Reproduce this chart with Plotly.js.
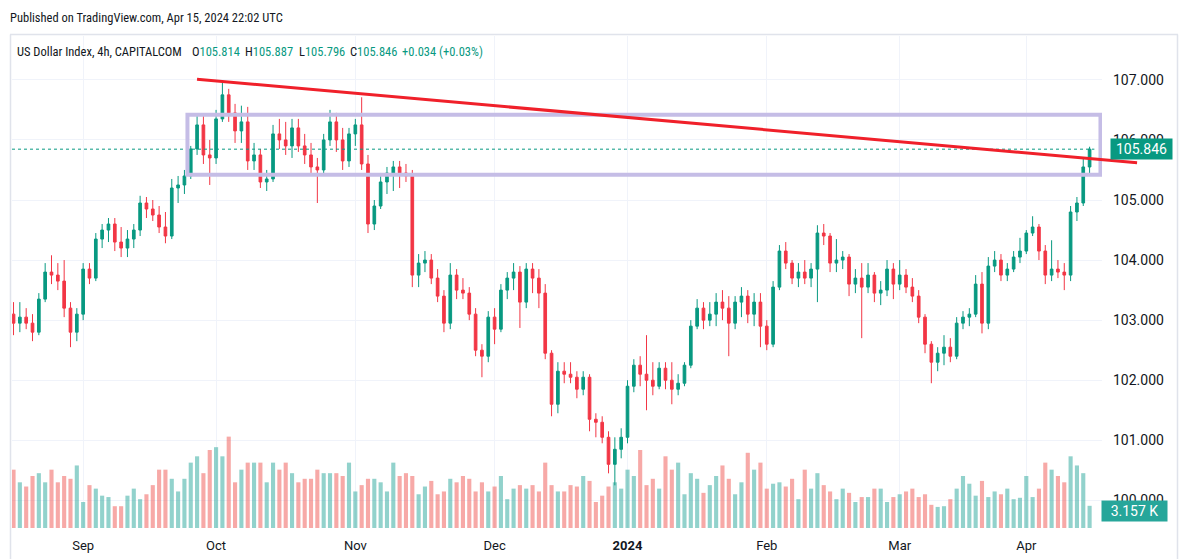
<!DOCTYPE html>
<html>
<head>
<meta charset="utf-8">
<script src="https://cdn.plot.ly/plotly-3.0.1.min.js"></script>
<style>
html,body{margin:0;padding:0;background:#fff;}
#chart{width:1185px;height:559px;}
</style>
</head>
<body>
<div id="chart"></div>
<script>
// ---- categories (trading days) ----
const dates = [
'2023-08-17','2023-08-18','2023-08-21','2023-08-22','2023-08-23','2023-08-24','2023-08-25','2023-08-28','2023-08-29','2023-08-30','2023-08-31',
'2023-09-01','2023-09-04','2023-09-05','2023-09-06','2023-09-07','2023-09-08','2023-09-11','2023-09-12','2023-09-13','2023-09-14','2023-09-15','2023-09-18','2023-09-19','2023-09-20','2023-09-21','2023-09-22','2023-09-25','2023-09-26','2023-09-27','2023-09-28','2023-09-29',
'2023-10-02','2023-10-03','2023-10-04','2023-10-05','2023-10-06','2023-10-09','2023-10-10','2023-10-11','2023-10-12','2023-10-13','2023-10-16','2023-10-17','2023-10-18','2023-10-19','2023-10-20','2023-10-23','2023-10-24','2023-10-25','2023-10-26','2023-10-27','2023-10-30','2023-10-31',
'2023-11-01','2023-11-02','2023-11-03','2023-11-06','2023-11-07','2023-11-08','2023-11-09','2023-11-10','2023-11-13','2023-11-14','2023-11-15','2023-11-16','2023-11-17','2023-11-20','2023-11-21','2023-11-22','2023-11-23','2023-11-24','2023-11-27','2023-11-28','2023-11-29','2023-11-30',
'2023-12-01','2023-12-04','2023-12-05','2023-12-06','2023-12-07','2023-12-08','2023-12-11','2023-12-12','2023-12-13','2023-12-14','2023-12-15','2023-12-18','2023-12-19','2023-12-20','2023-12-21','2023-12-22','2023-12-25','2023-12-26','2023-12-27','2023-12-28','2023-12-29',
'2024-01-02','2024-01-03','2024-01-04','2024-01-05','2024-01-08','2024-01-09','2024-01-10','2024-01-11','2024-01-12','2024-01-15','2024-01-16','2024-01-17','2024-01-18','2024-01-19','2024-01-22','2024-01-23','2024-01-24','2024-01-25','2024-01-26','2024-01-29','2024-01-30','2024-01-31',
'2024-02-01','2024-02-02','2024-02-05','2024-02-06','2024-02-07','2024-02-08','2024-02-09','2024-02-12','2024-02-13','2024-02-14','2024-02-15','2024-02-16','2024-02-19','2024-02-20','2024-02-21','2024-02-22','2024-02-23','2024-02-26','2024-02-27','2024-02-28','2024-02-29',
'2024-03-01','2024-03-04','2024-03-05','2024-03-06','2024-03-07','2024-03-08','2024-03-11','2024-03-12','2024-03-13','2024-03-14','2024-03-15','2024-03-18','2024-03-19','2024-03-20','2024-03-21','2024-03-22','2024-03-25','2024-03-26','2024-03-27','2024-03-28',
'2024-04-01','2024-04-02','2024-04-03','2024-04-04','2024-04-05','2024-04-08','2024-04-09','2024-04-10','2024-04-11','2024-04-12','2024-04-15'
];

// ---- series values ----
const open = [
103.10,102.95,103.05,102.95,102.80,103.35,103.80,103.75,103.65,103.20,102.80,
103.10,103.85,103.70,104.35,104.50,104.60,104.30,104.20,104.35,104.50,104.95,104.85,104.75,104.55,104.40,105.20,105.25,105.40,105.85,106.25,105.75,
105.70,106.35,106.75,106.45,106.15,106.30,105.65,105.75,105.30,105.35,106.10,106.00,105.90,106.20,105.90,105.75,105.55,105.50,106.00,106.30,106.00,105.65,
106.10,106.25,105.60,104.60,104.90,105.30,105.45,105.55,105.45,105.40,103.75,103.95,104.00,103.70,103.40,102.95,103.75,103.50,103.45,103.10,102.50,102.40,
103.05,102.85,103.50,103.70,103.80,103.30,103.85,103.70,103.45,102.45,101.60,102.15,102.10,102.05,101.85,102.05,101.35,101.30,101.05,100.60,100.85,
101.05,101.90,102.25,102.10,102.00,101.90,102.20,102.00,101.85,101.95,102.25,102.90,103.20,103.00,103.10,103.30,103.20,102.95,103.30,103.40,103.10,103.30,
102.90,102.60,103.55,104.15,103.95,103.70,103.80,103.70,103.85,104.45,104.40,103.95,104.00,104.05,103.60,103.70,103.55,103.75,103.45,103.50,103.85,
103.60,103.75,103.55,103.40,103.05,102.60,102.30,102.45,102.55,102.40,102.95,103.05,103.10,103.60,102.95,103.90,104.00,103.75,103.85,104.05,
104.15,104.45,104.55,104.15,103.75,103.85,103.80,103.75,104.80,104.95,105.55
];
const high = [
103.30,103.30,103.20,103.10,103.45,103.95,104.08,103.95,104.00,103.30,103.20,
103.95,103.95,104.45,104.60,104.70,104.70,104.55,104.50,104.60,105.07,105.05,105.00,104.90,104.80,105.35,105.40,105.50,105.90,106.40,106.40,106.00,
106.50,106.95,106.85,106.60,106.57,106.55,105.95,105.85,105.50,106.25,106.35,106.30,106.35,106.35,106.10,105.95,105.70,106.10,106.50,106.45,106.20,106.20,
106.35,106.71,105.75,105.00,105.45,105.55,105.65,105.65,105.60,105.50,104.10,104.15,104.10,103.85,103.50,103.95,103.85,103.70,103.55,103.20,102.60,103.15,
103.20,103.60,103.80,103.95,103.90,103.95,103.95,103.85,103.60,102.50,102.30,102.30,102.30,102.15,102.15,102.10,101.45,101.40,101.15,101.05,101.20,
102.00,102.35,102.40,102.75,102.30,102.30,102.30,102.30,102.10,102.30,103.00,103.35,103.30,103.30,103.45,103.50,103.40,103.40,103.55,103.50,103.45,103.45,
103.00,103.65,104.25,104.30,104.00,103.95,104.00,103.95,104.58,104.60,104.45,104.35,104.15,104.10,103.85,103.95,103.95,103.80,103.65,104.00,103.95,
104.00,103.85,103.70,103.50,103.10,102.65,102.55,102.75,102.70,103.05,103.15,103.20,103.75,103.80,104.05,104.15,104.10,103.95,104.15,104.37,
104.50,104.73,104.60,104.25,104.33,104.00,103.95,104.90,105.05,105.70,105.887
];
const low = [
102.75,102.80,102.85,102.65,102.75,103.30,103.60,103.50,103.05,102.55,102.65,
103.00,103.60,103.65,104.20,104.30,104.15,104.05,104.05,104.20,104.40,104.70,104.65,104.45,104.28,104.35,104.95,105.10,105.35,105.75,105.60,105.25,
105.60,106.30,106.30,105.95,105.95,105.50,105.50,105.20,105.15,105.30,105.85,105.75,105.70,105.80,105.60,105.45,104.95,105.45,105.90,105.80,105.50,105.55,
105.90,105.50,104.45,104.50,104.85,105.10,105.15,105.20,105.30,103.55,103.55,103.80,103.60,103.30,102.80,102.85,103.35,103.35,103.00,102.40,102.05,102.30,
102.60,102.80,103.35,103.50,102.87,103.20,103.45,103.20,102.35,101.40,101.45,101.95,101.95,101.70,101.75,101.15,101.05,100.95,100.45,100.25,100.70,
100.95,101.80,101.90,101.50,101.75,101.85,101.85,101.60,101.75,101.90,102.20,102.85,102.85,102.90,102.90,103.00,102.40,102.85,103.05,102.95,102.90,102.55,
102.50,102.55,103.50,103.85,103.60,103.55,103.60,103.55,103.30,104.25,103.80,103.80,103.85,103.40,103.45,102.70,103.45,103.30,103.25,103.40,103.35,
103.50,103.45,103.30,102.95,102.45,101.95,102.15,102.25,102.30,102.35,102.85,102.90,103.05,102.78,102.85,103.80,103.65,103.65,103.80,103.95,
104.10,104.40,104.00,103.60,103.65,103.70,103.50,103.65,104.65,104.90,105.45
];
const close = [
102.95,103.05,102.95,102.80,103.35,103.80,103.75,103.65,103.20,102.80,103.10,
103.85,103.70,104.35,104.50,104.60,104.30,104.20,104.35,104.50,104.95,104.85,104.75,104.55,104.40,105.20,105.25,105.40,105.85,106.25,105.75,105.70,
106.35,106.75,106.45,106.15,106.30,105.65,105.75,105.30,105.35,106.10,106.00,105.90,106.20,105.90,105.75,105.55,105.50,106.00,106.30,106.00,105.65,106.10,
106.25,105.60,104.60,104.90,105.30,105.45,105.55,105.45,105.40,103.75,103.95,104.00,103.70,103.40,102.95,103.75,103.50,103.45,103.10,102.50,102.40,103.05,
102.85,103.50,103.70,103.80,103.30,103.85,103.70,103.45,102.45,101.60,102.15,102.10,102.05,101.85,102.05,101.35,101.30,101.05,100.60,100.85,101.05,
101.90,102.25,102.10,102.00,101.90,102.20,102.00,101.85,101.95,102.25,102.90,103.20,103.00,103.10,103.30,103.20,102.95,103.30,103.40,103.10,103.30,102.90,
102.60,103.55,104.15,103.95,103.70,103.80,103.70,103.85,104.45,104.40,103.95,104.00,104.05,103.60,103.70,103.55,103.75,103.45,103.50,103.85,103.60,
103.75,103.55,103.40,103.05,102.60,102.30,102.45,102.55,102.40,102.95,103.05,103.10,103.60,102.95,103.90,104.00,103.75,103.85,104.05,104.15,
104.45,104.55,104.15,103.75,103.85,103.80,103.75,104.80,104.95,105.55,105.846
];
// volume in thousands
const volume = [
8.3,6.5,5.9,7.4,7.8,6.5,8.3,6.5,7.4,7.0,8.9,
3.7,6.1,5.6,4.6,4.4,3.1,3.1,4.6,5.6,4.1,4.8,6.1,8.3,8.3,7.0,5.2,7.0,9.3,10.2,7.8,11.1,
11.5,10.2,13.0,6.5,8.3,9.3,9.3,9.3,6.5,9.3,8.3,9.3,7.8,6.5,7.0,7.0,8.3,7.8,7.8,7.8,7.4,9.3,
5.2,6.1,7.0,7.0,6.5,5.2,9.3,7.4,7.8,7.4,4.8,5.9,6.7,4.8,5.2,7.0,6.5,7.4,7.0,5.2,6.5,5.2,
5.9,7.4,4.1,5.6,6.1,5.6,6.1,5.2,9.3,6.1,5.2,5.2,6.1,5.9,7.4,6.7,3.7,4.6,5.9,6.5,5.6,
8.3,7.4,11.1,6.1,7.0,5.6,10.2,8.3,9.3,4.8,7.8,7.0,5.0,6.1,7.4,8.9,7.0,4.8,6.5,10.7,8.3,9.3,
5.6,6.3,6.5,5.9,7.0,4.1,8.3,5.6,7.8,6.1,5.2,4.1,5.6,5.0,3.7,4.4,4.4,5.6,5.6,3.7,4.4,
4.8,5.2,5.6,4.4,4.8,3.3,3.0,3.1,4.1,5.6,7.4,6.3,4.6,6.7,4.4,5.2,4.8,5.6,4.1,4.3,
7.4,4.4,5.6,9.3,8.3,7.4,6.5,10.2,8.9,7.8,3.157
];

// ---- tick labels ----
const monthTicks  = ['2023-09-01','2023-10-02','2023-11-01','2023-12-01','2024-01-02','2024-02-01','2024-03-01','2024-04-01'];
const monthLabels = ['Sep','Oct','Nov','Dec','<b>2024</b>','Feb','Mar','Apr'];
const priceTicks  = [100,101,102,103,104,105,106,107];
const priceLabels = priceTicks.map(v => v.toFixed(3));

// ---- header texts (last 4h bar) ----
const publishedText = 'Published on TradingView.com, Apr 15, 2024 22:02 UTC';
const symbolText = 'US Dollar Index, 4h, CAPITALCOM';
const lastBarO = '105.814', lastBarH = '105.887', lastBarL = '105.796', lastBarC = '105.846';
const lastChange = '+0.034 (+0.03%)';

// ---- drawings (in data units: day index, price) ----
const boxZone = {i0: 27.48, i1: 171.72, p0: 105.42, p1: 106.42};
const trendLine = {i0: 28.99, p0: 107.01, i1: 177.5, p1: 105.62};

// ---- styling ----
const UP = '#089981', DOWN = '#f23645';
const VUP = 'rgba(38,166,154,0.5)', VDOWN = 'rgba(239,83,80,0.5)';
const TXT = '#131722';
const GRID = '#f0f3fa';
const X_RANGE = [-0.24, 171.96];
const P_RANGE = [99.54, 107.73];
const V_RANGE = [0, 70];
const M = {l: 12, r: 83, t: 36, b: 31};
const W = 1185, H = 559;
const PW = W - M.l - M.r, PH = H - M.t - M.b;
const pxX = px => (px - M.l) / PW;
const pxY = py => (H - M.b - py) / PH;
const xPaper = i => (i - X_RANGE[0]) / (X_RANGE[1] - X_RANGE[0]);
const yPaper = p => (p - P_RANGE[0]) / (P_RANGE[1] - P_RANGE[0]);

const volColors = close.map((c, k) => c >= open[k] ? VUP : VDOWN);
const lastIdx = close.length - 1;
const lastVolColor = close[lastIdx] >= open[lastIdx] ? '#26a69a' : '#ef5350';
const lastPriceColor = close[lastIdx] >= open[lastIdx] ? UP : DOWN;

const headFont = '"Roboto Condensed", "Liberation Sans Narrow", Roboto, sans-serif';
const axisFont = 'Roboto, "Liberation Sans", Arial, sans-serif';

const traces = [
  {
    type: 'bar', x: dates, y: volume, yaxis: 'y', xaxis: 'x',
    marker: {color: volColors, line: {width: 0}},
    hoverinfo: 'skip', showlegend: false
  },
  {
    type: 'candlestick', x: dates, open: open, high: high, low: low, close: close,
    yaxis: 'y2', xaxis: 'x',
    increasing: {line: {color: UP, width: 1}, fillcolor: UP},
    decreasing: {line: {color: DOWN, width: 1}, fillcolor: DOWN},
    whiskerwidth: 0, hoverinfo: 'skip', showlegend: false
  }
];

const frame = '#e0e3eb';
const shapes = [
  // panel frame
  {type: 'line', xref: 'paper', yref: 'paper', x0: pxX(10), x1: pxX(1178), y0: pxY(34.5), y1: pxY(34.5), line: {color: frame, width: 1.5}},
  {type: 'line', xref: 'paper', yref: 'paper', x0: pxX(10.5), x1: pxX(10.5), y0: pxY(34.5), y1: pxY(560), line: {color: frame, width: 1.5}},
  {type: 'line', xref: 'paper', yref: 'paper', x0: pxX(1177.5), x1: pxX(1177.5), y0: pxY(34.5), y1: pxY(560), line: {color: frame, width: 1.5}},
  // last price dotted line
  {type: 'line', xref: 'paper', yref: 'y2', x0: 0, x1: 0.993, y0: close[lastIdx], y1: close[lastIdx], line: {color: UP, width: 1, dash: 'dot'}, layer: 'above'},
  // zone rectangle
  {type: 'rect', xref: 'x', yref: 'y2', x0: boxZone.i0, x1: boxZone.i1, y0: boxZone.p0, y1: boxZone.p1,
   line: {color: '#c5bde6', width: 4}, fillcolor: 'rgba(0,0,0,0)', layer: 'above'},
  // trend line (extends past plot into the price scale)
  {type: 'line', xref: 'paper', yref: 'paper', x0: xPaper(trendLine.i0), y0: yPaper(trendLine.p0), x1: xPaper(trendLine.i1), y1: yPaper(trendLine.p1),
   line: {color: '#f0202a', width: 3}, layer: 'above'}
];

const ann = (text, px, py, size) => ({
  text: text, xref: 'paper', yref: 'paper', x: pxX(px), y: pxY(py),
  xanchor: 'left', yanchor: 'middle', showarrow: false,
  font: {family: headFont, size: size, color: TXT}
});
const g = s => '<span style="color:' + UP + '">' + s + '</span>';

const annotations = [
  ann(publishedText, 8, 18, 12.5),
  ann(symbolText, 15, 52, 12.5),
  ann('O' + g(lastBarO), 190, 52, 12.5),
  ann('H' + g(lastBarH), 243, 52, 12.5),
  ann('L' + g(lastBarL), 297, 52, 12.5),
  ann('C' + g(lastBarC), 348, 52, 12.5),
  ann(g(lastChange), 400, 52, 12.5),
  // price label
  {text: close[lastIdx].toFixed(3), xref: 'paper', yref: 'y2', x: pxX(1141.5), y: close[lastIdx],
   xanchor: 'center', yanchor: 'middle', showarrow: false, bgcolor: lastPriceColor,
   width: 61, height: 20, borderpad: 0, font: {family: axisFont, size: 14, color: '#ffffff'}},
  // volume label
  {text: volume[lastIdx].toFixed(3) + ' K', xref: 'paper', yref: 'y', x: pxX(1134.5), y: volume[lastIdx], yshift: -5,
   xanchor: 'center', yanchor: 'middle', showarrow: false, bgcolor: lastVolColor,
   width: 65, height: 20, borderpad: 0, font: {family: axisFont, size: 14, color: '#ffffff'}}
];

const layout = {
  width: W, height: H,
  margin: M,
  paper_bgcolor: '#ffffff', plot_bgcolor: '#ffffff',
  showlegend: false,
  bargap: 0.35,
  boxgap: 0.4,
  xaxis: {
    type: 'category', range: X_RANGE, tickmode: 'array', tickvals: monthTicks, ticktext: monthLabels,
    showgrid: true, gridcolor: GRID, gridwidth: 1, zeroline: false, showline: false, ticks: '',
    tickfont: {family: axisFont, size: 13, color: TXT}, ticklabelstandoff: 8,
    rangeslider: {visible: false}, fixedrange: true
  },
  yaxis: {range: V_RANGE, visible: false, showgrid: false, zeroline: false, fixedrange: true},
  yaxis2: {
    overlaying: 'y', side: 'right', anchor: 'x', range: P_RANGE,
    tickmode: 'array', tickvals: priceTicks, ticktext: priceLabels,
    showgrid: true, gridcolor: GRID, gridwidth: 1, zeroline: false, showline: false, ticks: '',
    tickfont: {family: axisFont, size: 14, color: TXT}, ticklabelstandoff: 10, fixedrange: true
  },
  shapes: shapes,
  annotations: annotations
};

Plotly.newPlot('chart', traces, layout, {displayModeBar: false, staticPlot: true});
</script>
</body>
</html>
